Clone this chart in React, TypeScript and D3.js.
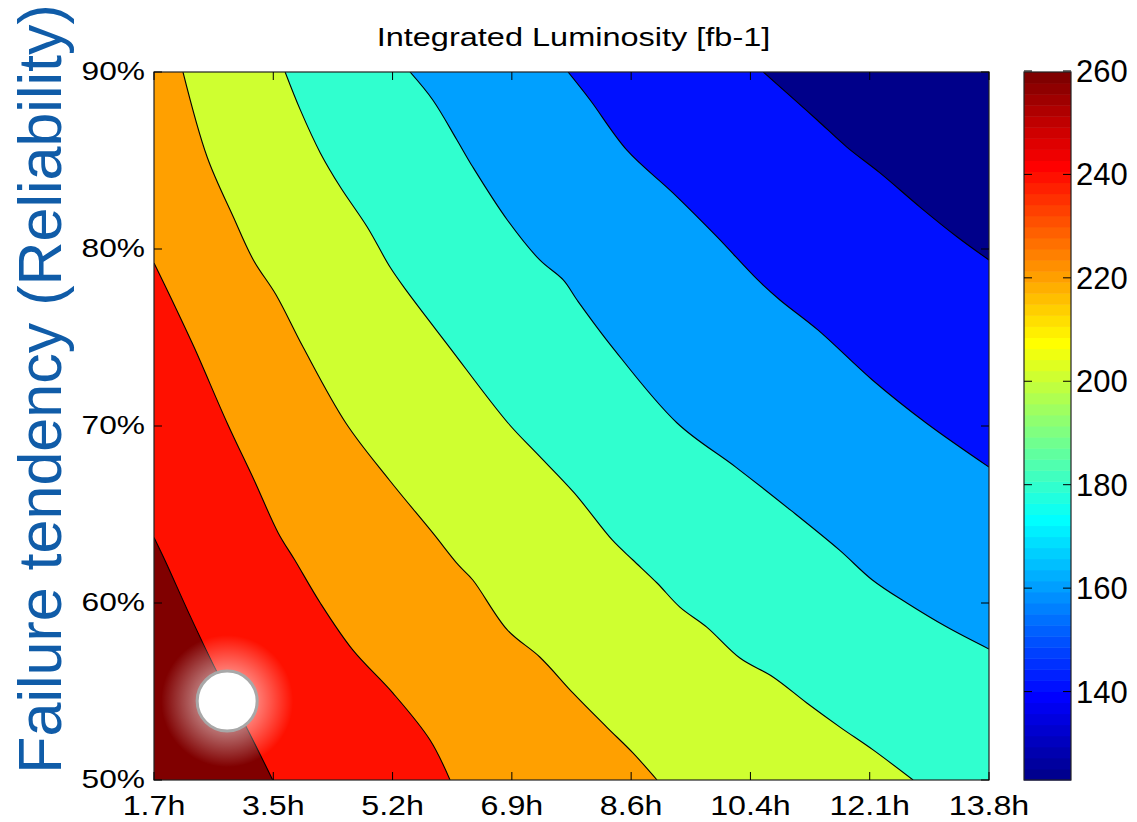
import * as d3 from 'd3'

// x axis: fill length in hours, y axis: failure tendency in %
const xTickLabels = ['1.7h', '3.5h', '5.2h', '6.9h', '8.6h', '10.4h', '12.1h', '13.8h']
const yTickValues = [50, 60, 70, 80, 90]
const cbarTicks = [140, 160, 180, 200, 220, 240, 260]
const cbarDomain = [122.9, 259.8]

// contour lines of integrated luminosity, [hours, %]
const levels = [140, 160, 180, 200, 220, 240, 260]
const line140 = [[10.53, 90], [10.87, 88.82], [11.31, 87.29], [11.74, 85.76], [12.22, 84.3], [12.8, 82.37], [13.34, 80.68], [13.8, 79.38]]
const line160 = [[7.7, 90], [8.02, 88.42], [8.55, 85.6], [9.22, 83.17], [9.86, 80.68], [10.45, 78.25], [10.77, 77.12], [11.32, 75.43], [12.11, 72.6], [12.89, 70.17], [13.8, 67.68]]
const line180 = [[5.41, 90], [5.74, 88.42], [6.09, 86.16], [6.32, 84.63], [6.82, 81.64], [7.29, 79.38], [7.63, 78.25], [7.83, 77.12], [8.34, 74.46], [9.28, 70.17], [10.13, 67.68], [10.92, 65.26], [11.63, 63.0], [12.11, 61.3], [12.61, 60.0], [13.19, 58.64], [13.8, 57.4]]
const line200 = [[3.6, 90], [3.82, 87.86], [4.11, 85.43], [4.4, 83.5], [4.79, 81.24], [5.12, 78.98], [5.35, 77.69], [5.98, 74.46], [6.83, 70.17], [7.24, 68.48], [7.79, 66.22], [8.34, 63.56], [8.64, 62.43], [8.99, 61.13], [9.32, 59.77], [9.71, 58.64], [10.19, 56.89], [10.67, 55.82], [11.16, 54.35], [11.64, 52.99], [12.12, 51.7], [12.7, 50]]
const line220 = [[2.12, 90], [2.47, 85.2], [2.85, 81.81], [3.14, 79.38], [3.47, 77.4], [3.86, 74.46], [4.48, 70.17], [5.11, 66.95], [5.74, 63.96], [6.11, 62.15], [6.32, 61.3], [6.82, 58.48], [7.29, 56.95], [7.77, 54.92], [8.26, 52.99], [8.64, 51.53], [8.99, 50]]
const line240 = [[1.7, 79.21], [1.82, 78.25], [1.96, 77.12], [2.28, 74.46], [2.76, 70.17], [3.15, 66.95], [3.5, 63.96], [3.74, 62.43], [4.11, 60.0], [4.58, 57.35], [5.16, 54.92], [5.7, 52.26], [5.99, 50]]
const line260 = [[1.7, 63.7], [1.86, 62.4], [2.22, 59.3], [2.6, 56.2], [3.05, 52.9], [3.42, 50]]
const contourLines = [line140, line160, line180, line200, line220, line240, line260]

// highlighted operating point
const marker = [2.76, 54.46]

const bandColors = ['#00008a', '#0010ff', '#00a0ff', '#30ffcf', '#cfff30', '#ffa000', '#ff1000', '#800000']

const W = 1137, H = 822
const plot = { left: 154, right: 989, top: 72, bottom: 780 }
const cbar = { left: 1024, right: 1071 }
const font = 'Liberation Sans, Arial, Helvetica, sans-serif'

// matlab style jet(64)
function jet64(): string[] {
  const m = 64, n = 16
  const u = [...d3.range(1, n + 1).map(k => k / n), ...Array(n - 1).fill(1), ...d3.range(n, 0, -1).map(k => k / n)]
  const J = d3.range(m).map(() => [0, 0, 0])
  u.forEach((v, k) => {
    const g = 9 + k, r = g + n, b = g - n
    if (r >= 1 && r <= m) J[r - 1][0] = v
    if (g >= 1 && g <= m) J[g - 1][1] = v
    if (b >= 1 && b <= m) J[b - 1][2] = v
  })
  return J.map(c => d3.rgb(c[0] * 255, c[1] * 255, c[2] * 255).formatHex())
}

export default function App() {
  const x = d3.scaleLinear().domain([1.7, 13.8]).range([plot.left, plot.right])
  const y = d3.scaleLinear().domain([50, 90]).range([plot.bottom, plot.top])
  const yc = d3.scaleLinear().domain(cbarDomain).range([plot.bottom, plot.top])
  const xTickValues = xTickLabels.map((_, i) => 1.7 + i * (13.8 - 1.7) / (xTickLabels.length - 1))

  const path = d3.line<number[]>().x(d => x(d[0])).y(d => y(d[1])).curve(d3.curveCatmullRom.alpha(0.5))

  // region on the high-value side (lower left) of a contour line
  const highSide = (pts: number[][]) => {
    const first = pts[0], last = pts[pts.length - 1]
    const corners: number[][] = []
    if (last[0] >= 13.8) corners.push([13.8, 50])
    corners.push([1.7, 50])
    if (first[1] >= 90) corners.push([1.7, 90])
    return path(pts) + corners.map(c => `L${x(c[0])},${y(c[1])}`).join('') + 'Z'
  }

  const jet = jet64()
  const step = (cbarDomain[1] - cbarDomain[0]) / jet.length
  const tick = 8

  return (
    <svg width={W} height={H} style={{ position: 'absolute', left: 0, top: 0, background: '#fff' }} fontFamily={font}>
      <defs>
        <radialGradient id='glow'>
          <stop offset='0%' stopColor='#fff' stopOpacity={0.75} />
          <stop offset='50%' stopColor='#fff' stopOpacity={0.42} />
          <stop offset='100%' stopColor='#fff' stopOpacity={0} />
        </radialGradient>
        <clipPath id='plotclip'>
          <rect x={plot.left} y={plot.top} width={plot.right - plot.left} height={plot.bottom - plot.top} />
        </clipPath>
      </defs>

      <g clipPath='url(#plotclip)'>
        <rect x={plot.left} y={plot.top} width={plot.right - plot.left} height={plot.bottom - plot.top} fill={bandColors[0]} />
        {contourLines.map((pts, i) => (
          <path key={'b' + levels[i]} d={highSide(pts)} fill={bandColors[i + 1]} />
        ))}
        {contourLines.map((pts, i) => (
          <path key={'l' + levels[i]} d={path(pts) ?? ''} fill='none' stroke='#000' strokeWidth={1.1} />
        ))}
        <circle cx={x(marker[0])} cy={y(marker[1])} r={66} fill='url(#glow)' />
        <circle cx={x(marker[0])} cy={y(marker[1])} r={30} fill='#fff' stroke='#a8a8a8' strokeWidth={3} />
      </g>

      {/* axes box and inward ticks */}
      <rect x={plot.left} y={plot.top} width={plot.right - plot.left} height={plot.bottom - plot.top} fill='none' stroke='#222' strokeWidth={1.2} />
      {xTickValues.map(v => (
        <g key={'xt' + v}>
          <line x1={x(v)} x2={x(v)} y1={plot.bottom} y2={plot.bottom - tick} stroke='#000' />
          <line x1={x(v)} x2={x(v)} y1={plot.top} y2={plot.top + tick} stroke='#000' />
        </g>
      ))}
      {yTickValues.map(v => (
        <g key={'yt' + v}>
          <line x1={plot.left} x2={plot.left + tick} y1={y(v)} y2={y(v)} stroke='#000' />
          <line x1={plot.right} x2={plot.right - tick} y1={y(v)} y2={y(v)} stroke='#000' />
        </g>
      ))}
      {xTickLabels.map((t, i) => (
        <text key={'xl' + t} transform={`translate(${x(xTickValues[i])},${plot.bottom + 35}) scale(1.15,1)`} textAnchor='middle' fontSize={28} fill='#000'>{t}</text>
      ))}
      {yTickValues.map(v => (
        <text key={'yl' + v} transform={`translate(${plot.left - 9},${y(v) + 8}) scale(1.22,1)`} textAnchor='end' fontSize={26} fill='#000'>{v}%</text>
      ))}

      <text transform={`translate(${(plot.left + plot.right) / 2 + 2},46) scale(1.3,1)`} textAnchor='middle' fontSize={25} fill='#000'>Integrated Luminosity [fb-1]</text>

      <text transform='translate(61,389) rotate(-90)' textAnchor='middle' fontSize={61} fill='#105ca8'>Failure tendency (Reliability)</text>

      {/* colorbar */}
      {jet.map((c, i) => {
        const y0 = yc(cbarDomain[0] + i * step), y1 = yc(cbarDomain[0] + (i + 1) * step)
        return <rect key={'cb' + i} x={cbar.left} y={y1} width={cbar.right - cbar.left} height={y0 - y1 + 0.5} fill={c} />
      })}
      <rect x={cbar.left} y={plot.top} width={cbar.right - cbar.left} height={plot.bottom - plot.top} fill='none' stroke='#222' strokeWidth={1.2} />
      {cbarTicks.map(v => (
        <g key={'ct' + v}>
          <line x1={cbar.left} x2={cbar.left + tick} y1={yc(v)} y2={yc(v)} stroke='#000' />
          <line x1={cbar.right} x2={cbar.right - tick} y1={yc(v)} y2={yc(v)} stroke='#000' />
          <text x={cbar.right + 5} y={yc(v) + 11} fontSize={31} fill='#000'>{v}</text>
        </g>
      ))}
    </svg>
  )
}
